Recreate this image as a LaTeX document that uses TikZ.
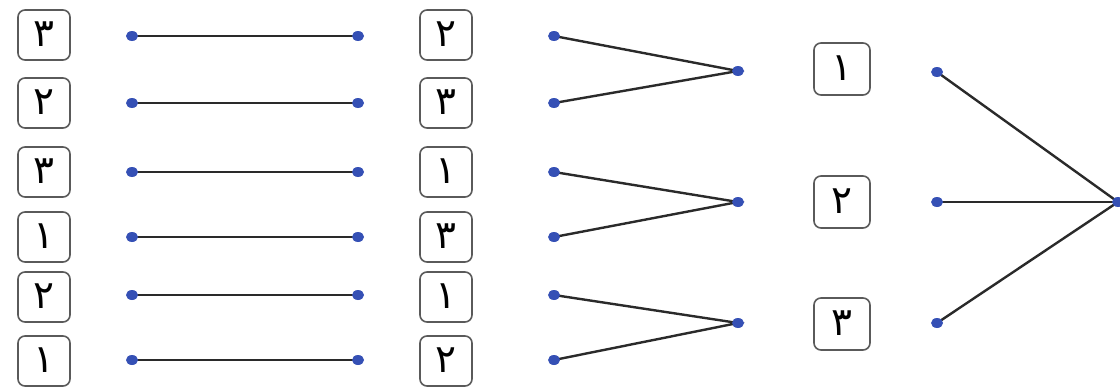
\documentclass[tikz,border=0pt]{standalone}
\usepackage{fontspec}
\usetikzlibrary{shapes.geometric}
\newfontfamily\arabicfont[Script=Arabic]{DejaVu Sans}
\TeXXeTstate=1
\pgfdeclarelayer{bg}
\pgfsetlayers{bg,main}
\definecolor{dotblue}{HTML}{3550B5}
\definecolor{boxgray}{HTML}{5A5A5A}
\definecolor{linegray}{HTML}{2A2A2A}
\newcommand{\dg}[1]{\raisebox{1.5pt}{\beginR #1\endR}}
\begin{document}
\begin{tikzpicture}[x=1pt,y=-1pt,
  numbox/.style={draw=boxgray,line width=1.6pt,rounded corners=7pt,minimum width=52pt,minimum height=50pt,inner sep=0pt,font=\arabicfont\fontsize{39}{39}\selectfont},
  dot/.style={ellipse,fill=dotblue,inner sep=0pt,minimum width=12pt,minimum height=10pt},
  conn/.style={draw=linegray,line width=2.4pt}]
\useasboundingbox (0,0) rectangle (1120,388);
\foreach \i/\y in {1/36,2/103,3/172,4/237,5/295,6/360}{
  \node[dot] (a\i) at (132,\y) {};
  \node[dot] (b\i) at (358,\y) {};
  \node[dot] (c\i) at (554,\y) {};
}
\node[numbox] (L1) at (44,35) {\dg{٣}};
\node[numbox] (L2) at (44,103) {\dg{٢}};
\node[numbox] (L3) at (44,172) {\dg{٣}};
\node[numbox] (L4) at (44,237) {\dg{١}};
\node[numbox] (L5) at (44,297) {\dg{٢}};
\node[numbox] (L6) at (44,361) {\dg{١}};
\node[numbox] (M1) at (446,35) {\dg{٢}};
\node[numbox] (M2) at (446,103) {\dg{٣}};
\node[numbox] (M3) at (446,172) {\dg{١}};
\node[numbox] (M4) at (446,237) {\dg{٣}};
\node[numbox] (M5) at (446,297) {\dg{١}};
\node[numbox] (M6) at (446,361) {\dg{٢}};
\node[dot] (d1) at (738,71) {};
\node[dot] (d2) at (738,202) {};
\node[dot] (d3) at (738,323) {};
\node[numbox,minimum width=56pt,minimum height=52pt] (R1) at (842,69) {\dg{١}};
\node[numbox,minimum width=56pt,minimum height=52pt] (R2) at (842,202) {\dg{٢}};
\node[numbox,minimum width=56pt,minimum height=52pt] (R3) at (842,324) {\dg{٣}};
\node[dot] (e1) at (937,72) {};
\node[dot] (e2) at (937,202) {};
\node[dot] (e3) at (937,323) {};
\node[dot] (f) at (1118,202) {};
\begin{pgfonlayer}{bg}
\foreach \i in {1,...,6}{ \path[conn] (a\i.center) -- (b\i.center); }
\path[conn] (c1.center) -- (d1.center) -- (c2.center);
\path[conn] (c3.center) -- (d2.center) -- (c4.center);
\path[conn] (c5.center) -- (d3.center) -- (c6.center);
\path[conn] (e1.center) -- (f.center);
\path[conn] (e2.center) -- (f.center);
\path[conn] (e3.center) -- (f.center);
\end{pgfonlayer}
\end{tikzpicture}
\end{document}
